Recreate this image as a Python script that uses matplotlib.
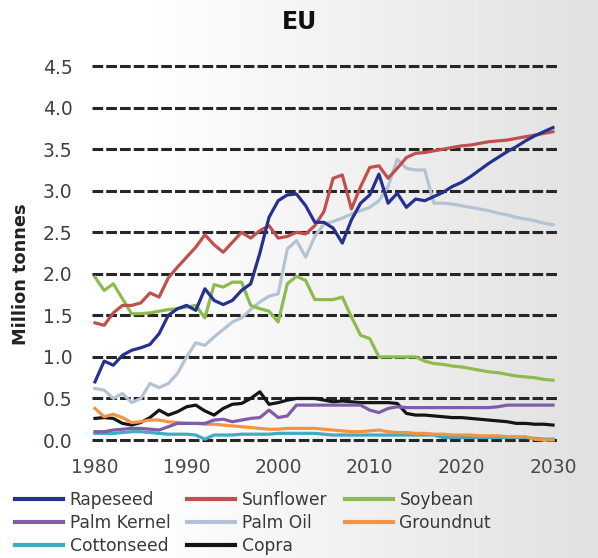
import matplotlib
matplotlib.use("Agg")
import matplotlib.pyplot as plt
import numpy as np

# años 1980-2030
years = list(range(1980, 2031))

rapeseed = [0.70, 0.95, 0.90, 1.02, 1.08, 1.11, 1.15, 1.28, 1.50, 1.58,
            1.62, 1.56, 1.82, 1.68, 1.63, 1.68, 1.80, 1.88, 2.25, 2.68,
            2.88, 2.95, 2.96, 2.82, 2.62, 2.62, 2.55, 2.37, 2.65, 2.85,
            2.95, 3.20, 2.85, 2.97, 2.80, 2.90, 2.88, 2.93, 2.98, 3.05,
            3.10, 3.17, 3.25, 3.33, 3.40, 3.47, 3.53, 3.60, 3.66, 3.71,
            3.76]
sunflower = [1.41, 1.38, 1.53, 1.62, 1.62, 1.65, 1.77, 1.72, 1.95, 2.08,
             2.20, 2.32, 2.47, 2.35, 2.26, 2.38, 2.50, 2.43, 2.52, 2.58,
             2.43, 2.45, 2.50, 2.48, 2.58, 2.75, 3.15, 3.19, 2.78, 3.05,
             3.28, 3.30, 3.15, 3.27, 3.40, 3.45, 3.46, 3.48, 3.50, 3.52,
             3.54, 3.55, 3.57, 3.59, 3.60, 3.61, 3.63, 3.65, 3.67, 3.69,
             3.71]
soybean = [1.96, 1.80, 1.88, 1.70, 1.52, 1.52, 1.53, 1.55, 1.57, 1.58,
           1.60, 1.62, 1.47, 1.87, 1.84, 1.90, 1.90, 1.62, 1.58, 1.55,
           1.42, 1.88, 1.97, 1.92, 1.69, 1.69, 1.69, 1.72, 1.48, 1.26,
           1.22, 1.00, 1.00, 1.00, 1.00, 1.00, 0.95, 0.92, 0.91, 0.89,
           0.88, 0.86, 0.84, 0.82, 0.81, 0.79, 0.77, 0.76, 0.75, 0.73,
           0.72]
palm_kernel = [0.10, 0.10, 0.12, 0.13, 0.14, 0.14, 0.13, 0.12, 0.16, 0.20,
               0.20, 0.20, 0.20, 0.24, 0.25, 0.22, 0.24, 0.26, 0.27, 0.36,
               0.27, 0.29, 0.42, 0.42, 0.42, 0.42, 0.42, 0.42, 0.42, 0.42,
               0.36, 0.33, 0.38, 0.40, 0.39, 0.39, 0.39, 0.39, 0.39, 0.39,
               0.39, 0.39, 0.39, 0.39, 0.40, 0.42, 0.42, 0.42, 0.42, 0.42,
               0.42]
palm_oil = [0.62, 0.60, 0.50, 0.56, 0.45, 0.50, 0.68, 0.63, 0.68, 0.80,
            1.00, 1.17, 1.14, 1.24, 1.33, 1.42, 1.47, 1.57, 1.66, 1.73,
            1.76, 2.30, 2.40, 2.20, 2.45, 2.60, 2.63, 2.67, 2.72, 2.76,
            2.80, 2.88, 3.05, 3.38, 3.27, 3.25, 3.25, 2.85, 2.85, 2.84,
            2.82, 2.80, 2.78, 2.76, 2.73, 2.71, 2.68, 2.66, 2.64, 2.61,
            2.59]
groundnut = [0.38, 0.28, 0.31, 0.27, 0.21, 0.22, 0.24, 0.24, 0.22, 0.21,
             0.20, 0.20, 0.19, 0.19, 0.18, 0.17, 0.16, 0.15, 0.14, 0.13,
             0.13, 0.14, 0.14, 0.14, 0.14, 0.13, 0.12, 0.11, 0.10, 0.10,
             0.11, 0.12, 0.10, 0.09, 0.09, 0.08, 0.08, 0.07, 0.07, 0.06,
             0.06, 0.06, 0.05, 0.05, 0.05, 0.04, 0.04, 0.04, 0.01, 0.00,
             0.00]
cottonseed = [0.08, 0.08, 0.08, 0.09, 0.10, 0.10, 0.09, 0.08, 0.07, 0.07,
              0.07, 0.06, 0.01, 0.06, 0.06, 0.06, 0.07, 0.07, 0.07, 0.07,
              0.08, 0.08, 0.08, 0.08, 0.08, 0.07, 0.06, 0.06, 0.06, 0.06,
              0.06, 0.06, 0.06, 0.06, 0.06, 0.06, 0.06, 0.06, 0.03, 0.03,
              0.03, 0.03, 0.03, 0.03, 0.03, 0.03, 0.03, 0.03, 0.02, 0.01,
              0.01]
copra = [0.26, 0.27, 0.26, 0.20, 0.18, 0.21, 0.27, 0.36, 0.30, 0.34,
         0.40, 0.42, 0.35, 0.30, 0.38, 0.43, 0.44, 0.50, 0.58, 0.43,
         0.45, 0.48, 0.50, 0.50, 0.50, 0.48, 0.46, 0.47, 0.46, 0.45,
         0.45, 0.45, 0.45, 0.44, 0.32, 0.30, 0.30, 0.29, 0.28, 0.27,
         0.27, 0.26, 0.25, 0.24, 0.23, 0.22, 0.20, 0.20, 0.19, 0.19,
         0.18]

series = [
    ("Rapeseed", rapeseed, "#26308f"),
    ("Sunflower", sunflower, "#c0504d"),
    ("Soybean", soybean, "#8dbb4f"),
    ("Palm Kernel", palm_kernel, "#7e5ea8"),
    ("Palm Oil", palm_oil, "#b4c3d3"),
    ("Groundnut", groundnut, "#f39442"),
    ("Cottonseed", cottonseed, "#3fabc4"),
    ("Copra", copra, "#151515"),
]

yticks = [0.0, 0.5, 1.0, 1.5, 2.0, 2.5, 3.0, 3.5, 4.0, 4.5]
xticks = [1980, 1990, 2000, 2010, 2020, 2030]

fig = plt.figure(figsize=(5.98, 5.58), dpi=100)

# fondo degradado
bg = fig.add_axes([0, 0, 1, 1], zorder=-1)
grad = np.linspace(0, 1, 256)
grad = np.clip((grad - 0.25) / 0.75, 0, 1)
bg.imshow(np.tile(grad, (10, 1)), cmap=matplotlib.colors.LinearSegmentedColormap.from_list(
    "g", ["#ffffff", "#e1e1e1"]), aspect="auto", extent=[0, 1, 0, 1])
bg.axis("off")

ax = fig.add_axes([0.1538, 0.204, 0.7793, 0.685])
ax.set_facecolor("none")

handles = {}
for name, vals, col in reversed(series):
    ln, = ax.plot(years, vals, color=col, lw=2.3, label=name, zorder=3)
    handles[name] = ln

ax.set_xlim(1979.67, 2030.55)
ax.set_ylim(-0.05, 4.55)
ax.set_yticks(yticks)
ax.set_yticklabels([f"{v:.1f}" for v in yticks])
ax.set_xticks(xticks)
for y in yticks:
    ax.axhline(y, color="#262626", lw=2.2, ls=(0, (3.5, 1)), zorder=1)

for s in ax.spines.values():
    s.set_visible(False)
ax.tick_params(axis="y", length=0, pad=14, labelsize=13.5, labelcolor="#3c4048")
ax.tick_params(axis="x", length=0, pad=10, labelsize=13.5, labelcolor="#4a4a4a")

ax.set_ylabel("Million tonnes", fontsize=12.8, fontweight="bold", color="#222222")
ax.yaxis.set_label_coords(-0.133, 0.446)

fig.text(0.5, 0.96, "EU", ha="center", va="center", fontsize=17,
         fontweight="bold", color="#111111")

orden = ["Rapeseed", "Palm Kernel", "Cottonseed", "Sunflower", "Palm Oil",
         "Copra", "Soybean", "Groundnut"]
leg = fig.legend([handles[n] for n in orden], orden, ncol=3, frameon=False,
                 loc="upper left", bbox_to_anchor=(0.025, 0.120),
                 borderpad=0, borderaxespad=0, handlelength=2.8,
                 handletextpad=0.4, columnspacing=1.0, labelspacing=0.3,
                 fontsize=12.3)
for t in leg.get_texts():
    t.set_color("#3a3a3a")
for l in leg.get_lines():
    l.set_linewidth(3)

fig.savefig("out.png", dpi=100)
